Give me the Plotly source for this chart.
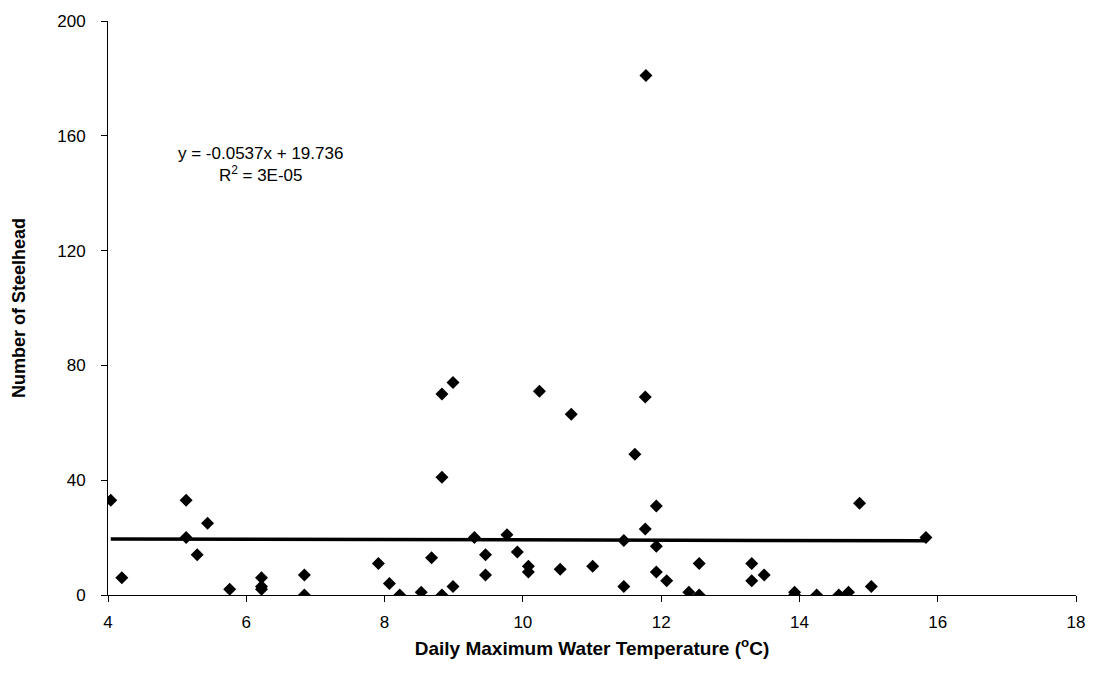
import plotly.graph_objects as go

temps = [4.04, 4.20, 5.13, 5.13, 5.44, 5.29, 5.76, 6.22, 6.22, 6.22, 6.84, 6.84,
         7.91, 8.07, 8.22, 8.53, 8.68, 8.83, 8.83, 8.83, 8.99, 8.99, 9.30, 9.46,
         9.46, 9.77, 9.92, 10.08, 10.08, 10.24, 10.54, 10.70, 11.01, 11.46, 11.46,
         11.62, 11.77, 11.77, 11.78, 11.93, 11.93, 11.93, 12.08, 12.40, 12.55, 12.55,
         13.31, 13.31, 13.49, 13.93, 13.93, 14.25, 14.57, 14.71, 14.87, 15.04, 15.83]
counts = [33, 6, 33, 20, 25, 14, 2, 6, 3, 2, 7, 0,
          11, 4, 0, 1, 13, 0, 70, 41, 3, 74, 20, 14,
          7, 21, 15, 10, 8, 71, 9, 63, 10, 19, 3,
          49, 69, 23, 181, 31, 17, 8, 5, 1, 0, 11,
          11, 5, 7, 1, 0, 0, 0, 1, 32, 3, 20]

slope = -0.0537
intercept = 19.736
eq_text = "y = -0.0537x + 19.736<br>R<sup>2</sup> = 3E-05"

x_line = [min(temps), max(temps)]
y_line = [slope * v + intercept for v in x_line]

FONT = "Liberation Sans, Arial"

fig = go.Figure()
fig.add_trace(go.Scatter(x=x_line, y=y_line, mode="lines",
                         line=dict(color="black", width=3.5), hoverinfo="skip"))
fig.add_trace(go.Scatter(x=temps, y=counts, mode="markers",
                         marker=dict(symbol="diamond", size=10, color="black")))

fig.add_annotation(x=6.2, y=150, xref="x", yref="y", text=eq_text, showarrow=False,
                   font=dict(family=FONT, size=17, color="black"),
                   align="center", xanchor="center", yanchor="middle")

fig.update_layout(
    width=1097, height=679,
    margin=dict(l=108, r=16, t=20, b=84),
    paper_bgcolor="white", plot_bgcolor="white",
    showlegend=False,
    font=dict(family=FONT, size=17, color="black"),
    xaxis=dict(range=[4, 18], tickvals=[4, 6, 8, 10, 12, 14, 16, 18],
               showgrid=False, zeroline=False, showline=True, linecolor="black",
               linewidth=1, ticks="outside", ticklen=6, tickcolor="black",
               ticklabelstandoff=6, tickfont=dict(size=17),
               title=dict(text="Daily Maximum Water Temperature (<sup>o</sup>C)",
                          font=dict(size=19, weight="bold"), standoff=10)),
    yaxis=dict(range=[0, 200], tickvals=[0, 40, 80, 120, 160, 200],
               showgrid=False, zeroline=False, showline=True, linecolor="black",
               linewidth=1, ticks="outside", ticklen=6, tickcolor="black",
               ticklabelstandoff=12, tickfont=dict(size=17),
               title=dict(text="Number of Steelhead",
                          font=dict(size=18, weight="bold"), standoff=26)),
)

fig.write_html("out.html")
